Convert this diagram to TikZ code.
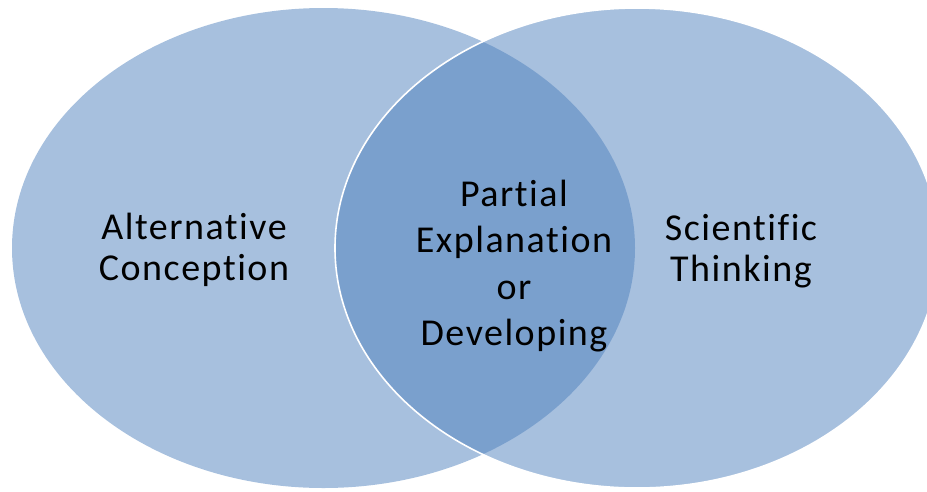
\documentclass[tikz,border=0pt]{standalone}
\usepackage{fontspec}
\setmainfont{Carlito}[Ligatures=NoCommon, LetterSpace=4]
\begin{document}
\begin{tikzpicture}[x=1pt,y=-1pt,
  setfill/.style={fill={rgb,255:red,79;green,129;blue,189}, fill opacity=0.5},
  label/.style={align=center, inner sep=0pt, text=black, text opacity=1,
    font=\fontsize{38}{41}\selectfont}]
  \useasboundingbox (0,0) rectangle (927,491);
  % left set
  \path[setfill] (323.5,248) ellipse [x radius=311.5, y radius=240];
  % right set, outlined in white where it crosses the left one
  \path[setfill, draw=white, line width=1.6pt] (637,248) ellipse [x radius=302, y radius=240];
  \node[label] (alt) at (194,250) {Alternative\\Conception};
  \node[label, font=\fontsize{38}{46.5}\selectfont] (mid) at (514,266) {Partial\\Explanation\\or\\Developing};
  \node[label] (sci) at (741,251) {Scientific\\Thinking};
\end{tikzpicture}
\end{document}
